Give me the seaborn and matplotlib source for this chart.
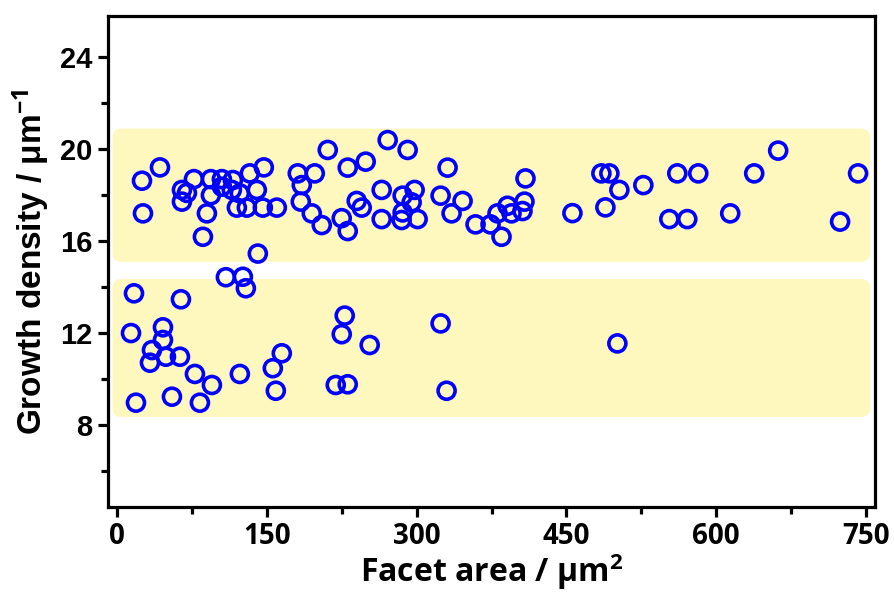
import matplotlib
matplotlib.use("Agg")
import matplotlib.pyplot as plt
from matplotlib.patches import FancyBboxPatch
from matplotlib.ticker import MultipleLocator
import seaborn as sns
import pandas as pd

facet_area = [
    # lower cluster
    17, 64, 14, 46, 46, 35, 33, 49, 63, 78, 95, 123, 156, 165, 159, 19, 55, 83,
    109, 126, 129, 228, 225, 253, 324, 501, 219, 231, 330,
    # upper cluster
    141, 25, 43, 26, 65, 65, 77, 94, 105, 116, 94, 105, 115, 123, 133, 147, 140,
    90, 86, 120, 130, 146, 160, 181, 185, 184, 198, 195, 205, 211, 231, 249, 225,
    231, 240, 245, 271, 291, 265, 265, 286, 298, 295, 286, 285, 301, 331, 324,
    335, 346, 359, 374, 385, 381, 391, 395, 408, 406, 409, 456, 485, 493, 503,
    489, 527, 561, 582, 553, 571, 614, 638, 662, 724, 742, 70,
]
growth_density = [
    13.73, 13.47, 12.00, 12.25, 11.70, 11.26, 10.71, 10.97, 10.97, 10.22, 9.74,
    10.22, 10.47, 11.12, 9.49, 8.97, 9.23, 8.97,
    14.43, 14.45, 13.95, 12.76, 11.95, 11.48, 12.42, 11.55, 9.74, 9.77, 9.49,
    15.46, 18.63, 19.21, 17.21, 18.23, 17.72, 18.70, 18.70, 18.70, 18.66, 18.00,
    18.37, 18.23, 18.08, 18.95, 19.21, 18.23, 17.21, 16.19, 17.46, 17.46, 17.46,
    17.46, 18.95, 18.44, 17.72, 18.95, 17.21, 16.70, 19.97, 19.20, 19.46, 17.00,
    16.44, 17.75, 17.46, 20.40, 19.97, 18.23, 16.96, 17.98, 18.23, 17.69, 17.25,
    16.92, 16.96, 19.20, 17.98, 17.21, 17.75, 16.73, 16.73, 16.19, 17.21, 17.54,
    17.21, 17.72, 17.31, 18.73, 17.22, 18.95, 18.95, 18.23, 17.47, 18.44, 18.95,
    18.95, 16.96, 16.96, 17.21, 18.95, 19.94, 16.85, 18.95, 18.10,
]
x_ticks = [0, 150, 300, 450, 600, 750]
y_ticks = [8, 12, 16, 20, 24]
bands = [(15.1, 20.9), (8.35, 14.35)]

df = pd.DataFrame({"area": facet_area, "density": growth_density})

sns.set_style("ticks")
plt.rcParams["font.family"] = ["Liberation Sans", "DejaVu Sans"]
plt.rcParams["font.weight"] = "bold"
plt.rcParams["mathtext.fontset"] = "custom"
plt.rcParams["mathtext.rm"] = "Open Sans:bold"
plt.rcParams["mathtext.it"] = "Open Sans:bold"
plt.rcParams["mathtext.bf"] = "Open Sans:bold"
plt.rcParams["mathtext.default"] = "rm"
for key in ["text.color", "axes.labelcolor", "xtick.color", "ytick.color",
            "axes.edgecolor"]:
    plt.rcParams[key] = "black"

fig = plt.figure(figsize=(8.95, 5.92), dpi=100)
ax = fig.add_axes([0.1207, 0.1436, 0.8570, 0.8294])

xlim = (-9, 759)
ylim = (4.43, 25.8)
ax.set_xlim(*xlim)
ax.set_ylim(*ylim)

# yellow rounded bands
bx0, bx1 = -4.5, 754
for (b0, b1) in bands:
    p = FancyBboxPatch((bx0, b0), bx1 - bx0, b1 - b0,
                       boxstyle="round,pad=0,rounding_size=9",
                       mutation_aspect=1 / 23.0,
                       facecolor="#FFF8BE", edgecolor="none", zorder=0)
    ax.add_patch(p)

sns.scatterplot(data=df, x="area", y="density", ax=ax, marker="o",
                s=150, facecolor="none", edgecolor="#0000FF", linewidth=2.6,
                zorder=3, legend=False)

ax.set_xticks(x_ticks)
ax.set_yticks(y_ticks)
ax.xaxis.set_minor_locator(MultipleLocator(75))
ax.yaxis.set_minor_locator(MultipleLocator(2))
ax.tick_params(which="major", direction="out", length=7, width=2.3,
               labelsize=21, pad=4, colors="black")
ax.tick_params(which="minor", direction="out", length=5, width=2.3,
               colors="black")
ax.tick_params(axis="x", which="both", top=False)
ax.tick_params(axis="y", which="both", right=False)
for lab in ax.get_yticklabels():
    lab.set_fontweight("bold")
for lab in ax.get_xticklabels():
    lab.set_fontweight("bold")
    lab.set_family(["Open Sans", "DejaVu Sans"])
    lab.set_fontsize(20)
for sp in ax.spines.values():
    sp.set_visible(True)
    sp.set_linewidth(2.3)
    sp.set_color("black")

ax.set_xlabel(r"Facet area / μm$^{2}$", fontsize=23, fontweight="bold",
              family=["Open Sans", "DejaVu Sans"], labelpad=0, color="black")
ax.set_ylabel(r"Growth density / μm$^{-1}$", fontsize=24, fontweight="bold",
              labelpad=6, color="black")

fig.savefig("out.png", dpi=100)
